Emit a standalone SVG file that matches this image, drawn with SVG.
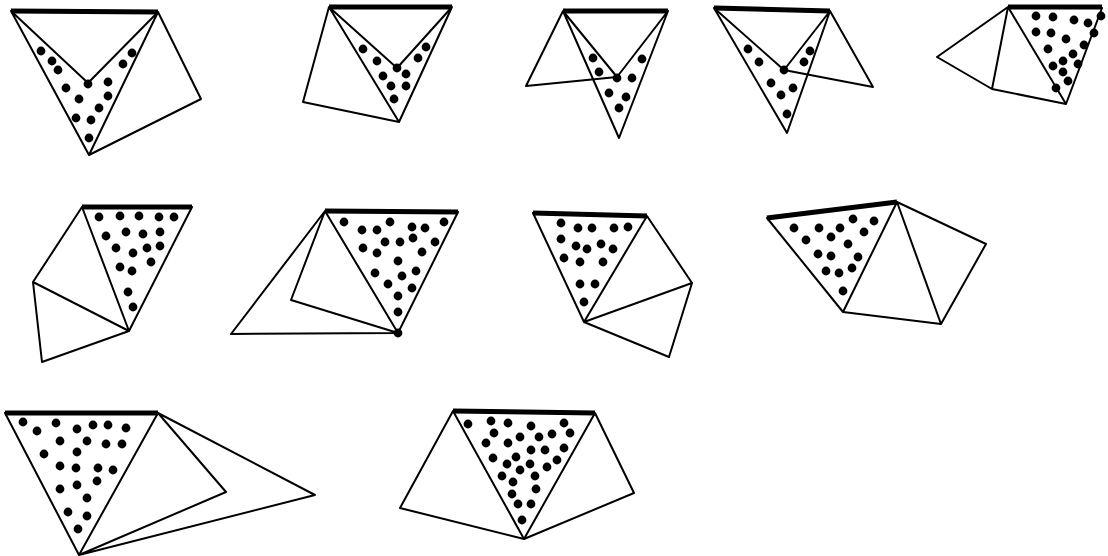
<svg xmlns="http://www.w3.org/2000/svg" width="1108" height="556" viewBox="0 0 1108 556">
<style>
.l{fill:none;stroke:#000;stroke-width:2;stroke-linejoin:round;stroke-linecap:round}
.t{stroke:#000;stroke-width:5;stroke-linecap:butt}
.d circle{fill:#000}
</style>
<rect width="1108" height="556" fill="#fff"/>
<g id="fig1">
<path class="l" d="M11,11 L89,155 L158,12 M11,11 L88,83 L158,12 L201,99 L89,155"/>
<line class="t" x1="11" y1="11" x2="158" y2="12"/>
<g class="d"><circle cx="41" cy="51" r="4.4"/><circle cx="52" cy="61" r="4.4"/><circle cx="58" cy="70" r="4.4"/><circle cx="66" cy="88" r="4.4"/><circle cx="79" cy="99" r="4.4"/><circle cx="76" cy="118" r="4.4"/><circle cx="89" cy="138" r="4.4"/><circle cx="91" cy="120" r="4.4"/><circle cx="99" cy="108" r="4.4"/><circle cx="108" cy="96" r="4.4"/><circle cx="108" cy="82" r="4.4"/><circle cx="123" cy="64" r="4.4"/><circle cx="132" cy="53" r="4.4"/><circle cx="88" cy="84" r="4.4"/></g>
</g>
<g id="fig2">
<path class="l" d="M329,7 L303,102 L399,122 L329,7 L397,68 L452,7 L399,122"/>
<line class="t" x1="329" y1="7" x2="452" y2="7"/>
<g class="d"><circle cx="363" cy="49" r="4.4"/><circle cx="377" cy="61" r="4.4"/><circle cx="383" cy="76" r="4.4"/><circle cx="391" cy="86" r="4.4"/><circle cx="394" cy="99" r="4.4"/><circle cx="397" cy="68" r="4.4"/><circle cx="406" cy="74" r="4.4"/><circle cx="406" cy="86" r="4.4"/><circle cx="418" cy="58" r="4.4"/><circle cx="426" cy="47" r="4.4"/></g>
</g>
<g id="fig3">
<path class="l" d="M563,11 L526,86 L617,77 L563,11 L619,138 L668,11 L617,77"/>
<line class="t" x1="563" y1="11" x2="668" y2="11"/>
<g class="d"><circle cx="593" cy="58" r="4.4"/><circle cx="599" cy="72" r="4.4"/><circle cx="609" cy="93" r="4.4"/><circle cx="617" cy="78" r="4.4"/><circle cx="626" cy="97" r="4.4"/><circle cx="619" cy="108" r="4.4"/><circle cx="632" cy="78" r="4.4"/><circle cx="642" cy="59" r="4.4"/></g>
</g>
<g id="fig4">
<path class="l" d="M714,8 L787,133 L830,11 L873,87 L784,70 L714,8 M784,70 L830,11"/>
<line class="t" x1="714" y1="8" x2="830" y2="11"/>
<g class="d"><circle cx="748" cy="49" r="4.4"/><circle cx="759" cy="62" r="4.4"/><circle cx="784" cy="70" r="4.4"/><circle cx="771" cy="83" r="4.4"/><circle cx="781" cy="95" r="4.4"/><circle cx="793" cy="88" r="4.4"/><circle cx="787" cy="114" r="4.4"/><circle cx="804" cy="62" r="4.4"/><circle cx="810" cy="51" r="4.4"/></g>
</g>
<g id="fig5">
<path class="l" d="M1008,7 L937,57 L992,89 L1066,104 L1102,8 M1008,7 L992,89 M1008,7 L1066,104"/>
<line class="t" x1="1008" y1="7" x2="1102" y2="7"/>
<g class="d"><circle cx="1036" cy="16" r="4.4"/><circle cx="1053" cy="17" r="4.4"/><circle cx="1074" cy="20" r="4.4"/><circle cx="1088" cy="23" r="4.4"/><circle cx="1101" cy="16" r="4.4"/><circle cx="1036" cy="32" r="4.4"/><circle cx="1051" cy="33" r="4.4"/><circle cx="1066" cy="39" r="4.4"/><circle cx="1094" cy="33" r="4.4"/><circle cx="1084" cy="45" r="4.4"/><circle cx="1048" cy="49" r="4.4"/><circle cx="1073" cy="54" r="4.4"/><circle cx="1063" cy="61" r="4.4"/><circle cx="1078" cy="64" r="4.4"/><circle cx="1053" cy="66" r="4.4"/><circle cx="1063" cy="72" r="4.4"/><circle cx="1068" cy="81" r="4.4"/><circle cx="1056" cy="88" r="4.4"/></g>
</g>
<g id="fig6">
<path class="l" d="M82,207 L33,282 L129,331 L82,207 M192,207 L129,331 L42,362 L33,282"/>
<line class="t" x1="82" y1="207" x2="192" y2="207"/>
<g class="d"><circle cx="99" cy="217" r="4.4"/><circle cx="120" cy="216" r="4.4"/><circle cx="139" cy="216" r="4.4"/><circle cx="159" cy="217" r="4.4"/><circle cx="174" cy="217" r="4.4"/><circle cx="106" cy="236" r="4.4"/><circle cx="126" cy="232" r="4.4"/><circle cx="143" cy="234" r="4.4"/><circle cx="160" cy="232" r="4.4"/><circle cx="116" cy="248" r="4.4"/><circle cx="133" cy="253" r="4.4"/><circle cx="147" cy="248" r="4.4"/><circle cx="160" cy="246" r="4.4"/><circle cx="120" cy="267" r="4.4"/><circle cx="132" cy="271" r="4.4"/><circle cx="151" cy="262" r="4.4"/><circle cx="128" cy="292" r="4.4"/><circle cx="133" cy="307" r="4.4"/></g>
</g>
<g id="fig7">
<path class="l" d="M325,211 L231,334 L398,333 L291,300 L325,211 L398,333 L458,212"/>
<line class="t" x1="325" y1="211" x2="458" y2="212"/>
<g class="d"><circle cx="344" cy="222" r="4.4"/><circle cx="362" cy="230" r="4.4"/><circle cx="377" cy="230" r="4.4"/><circle cx="390" cy="222" r="4.4"/><circle cx="412" cy="227" r="4.4"/><circle cx="425" cy="228" r="4.4"/><circle cx="444" cy="222" r="4.4"/><circle cx="385" cy="242" r="4.4"/><circle cx="400" cy="242" r="4.4"/><circle cx="413" cy="238" r="4.4"/><circle cx="435" cy="242" r="4.4"/><circle cx="363" cy="248" r="4.4"/><circle cx="377" cy="253" r="4.4"/><circle cx="422" cy="252" r="4.4"/><circle cx="398" cy="261" r="4.4"/><circle cx="375" cy="273" r="4.4"/><circle cx="402" cy="276" r="4.4"/><circle cx="416" cy="271" r="4.4"/><circle cx="388" cy="284" r="4.4"/><circle cx="412" cy="288" r="4.4"/><circle cx="398" cy="296" r="4.4"/><circle cx="398" cy="312" r="4.4"/><circle cx="398" cy="333" r="4.4"/></g>
</g>
<g id="fig8">
<path class="l" d="M533,213 L584,322 L647,216 L692,283 L584,322 L669,357 L692,283"/>
<line class="t" x1="533" y1="213" x2="647" y2="216"/>
<g class="d"><circle cx="561" cy="223" r="4.4"/><circle cx="578" cy="228" r="4.4"/><circle cx="592" cy="228" r="4.4"/><circle cx="614" cy="228" r="4.4"/><circle cx="628" cy="227" r="4.4"/><circle cx="561" cy="239" r="4.4"/><circle cx="576" cy="246" r="4.4"/><circle cx="587" cy="249" r="4.4"/><circle cx="601" cy="244" r="4.4"/><circle cx="613" cy="249" r="4.4"/><circle cx="564" cy="258" r="4.4"/><circle cx="580" cy="262" r="4.4"/><circle cx="603" cy="262" r="4.4"/><circle cx="580" cy="284" r="4.4"/><circle cx="595" cy="284" r="4.4"/><circle cx="584" cy="302" r="4.4"/></g>
</g>
<g id="fig9">
<path class="l" d="M767,218 L843,312 L897,202 L986,244 L941,324 L843,312 M897,202 L941,324"/>
<line class="t" x1="767" y1="218" x2="897" y2="202"/>
<g class="d"><circle cx="794" cy="228" r="4.4"/><circle cx="819" cy="228" r="4.4"/><circle cx="840" cy="228" r="4.4"/><circle cx="853" cy="219" r="4.4"/><circle cx="874" cy="221" r="4.4"/><circle cx="806" cy="240" r="4.4"/><circle cx="831" cy="237" r="4.4"/><circle cx="864" cy="232" r="4.4"/><circle cx="848" cy="244" r="4.4"/><circle cx="818" cy="254" r="4.4"/><circle cx="831" cy="256" r="4.4"/><circle cx="858" cy="257" r="4.4"/><circle cx="826" cy="271" r="4.4"/><circle cx="839" cy="273" r="4.4"/><circle cx="852" cy="268" r="4.4"/><circle cx="843" cy="291" r="4.4"/></g>
</g>
<g id="fig10">
<path class="l" d="M5,413 L79,555 L158,413 L226,492 L79,555 L315,495 L158,413"/>
<line class="t" x1="5" y1="413" x2="158" y2="413"/>
<g class="d"><circle cx="23" cy="422" r="4.4"/><circle cx="37" cy="431" r="4.4"/><circle cx="56" cy="423" r="4.4"/><circle cx="77" cy="429" r="4.4"/><circle cx="93" cy="425" r="4.4"/><circle cx="108" cy="425" r="4.4"/><circle cx="126" cy="428" r="4.4"/><circle cx="60" cy="441" r="4.4"/><circle cx="87" cy="441" r="4.4"/><circle cx="106" cy="444" r="4.4"/><circle cx="122" cy="444" r="4.4"/><circle cx="44" cy="454" r="4.4"/><circle cx="77" cy="452" r="4.4"/><circle cx="60" cy="466" r="4.4"/><circle cx="76" cy="468" r="4.4"/><circle cx="98" cy="468" r="4.4"/><circle cx="113" cy="470" r="4.4"/><circle cx="60" cy="489" r="4.4"/><circle cx="77" cy="485" r="4.4"/><circle cx="97" cy="481" r="4.4"/><circle cx="87" cy="498" r="4.4"/><circle cx="68" cy="512" r="4.4"/><circle cx="87" cy="516" r="4.4"/><circle cx="78" cy="529" r="4.4"/></g>
</g>
<g id="fig11">
<path class="l" d="M453,411 L400,508 L524,539 L453,411 M595,413 L524,539 L634,493 L595,413"/>
<line class="t" x1="453" y1="411" x2="595" y2="413"/>
<g class="d"><circle cx="468" cy="424" r="4.4"/><circle cx="491" cy="421" r="4.4"/><circle cx="508" cy="423" r="4.4"/><circle cx="531" cy="426" r="4.4"/><circle cx="564" cy="423" r="4.4"/><circle cx="494" cy="433" r="4.4"/><circle cx="520" cy="437" r="4.4"/><circle cx="539" cy="437" r="4.4"/><circle cx="552" cy="434" r="4.4"/><circle cx="570" cy="433" r="4.4"/><circle cx="486" cy="443" r="4.4"/><circle cx="508" cy="443" r="4.4"/><circle cx="531" cy="450" r="4.4"/><circle cx="545" cy="450" r="4.4"/><circle cx="564" cy="448" r="4.4"/><circle cx="493" cy="458" r="4.4"/><circle cx="516" cy="457" r="4.4"/><circle cx="507" cy="464" r="4.4"/><circle cx="530" cy="464" r="4.4"/><circle cx="557" cy="460" r="4.4"/><circle cx="520" cy="470" r="4.4"/><circle cx="547" cy="467" r="4.4"/><circle cx="502" cy="476" r="4.4"/><circle cx="513" cy="482" r="4.4"/><circle cx="535" cy="476" r="4.4"/><circle cx="536" cy="489" r="4.4"/><circle cx="512" cy="494" r="4.4"/><circle cx="518" cy="504" r="4.4"/><circle cx="531" cy="504" r="4.4"/><circle cx="522" cy="520" r="4.4"/></g>
</g>
</svg>
